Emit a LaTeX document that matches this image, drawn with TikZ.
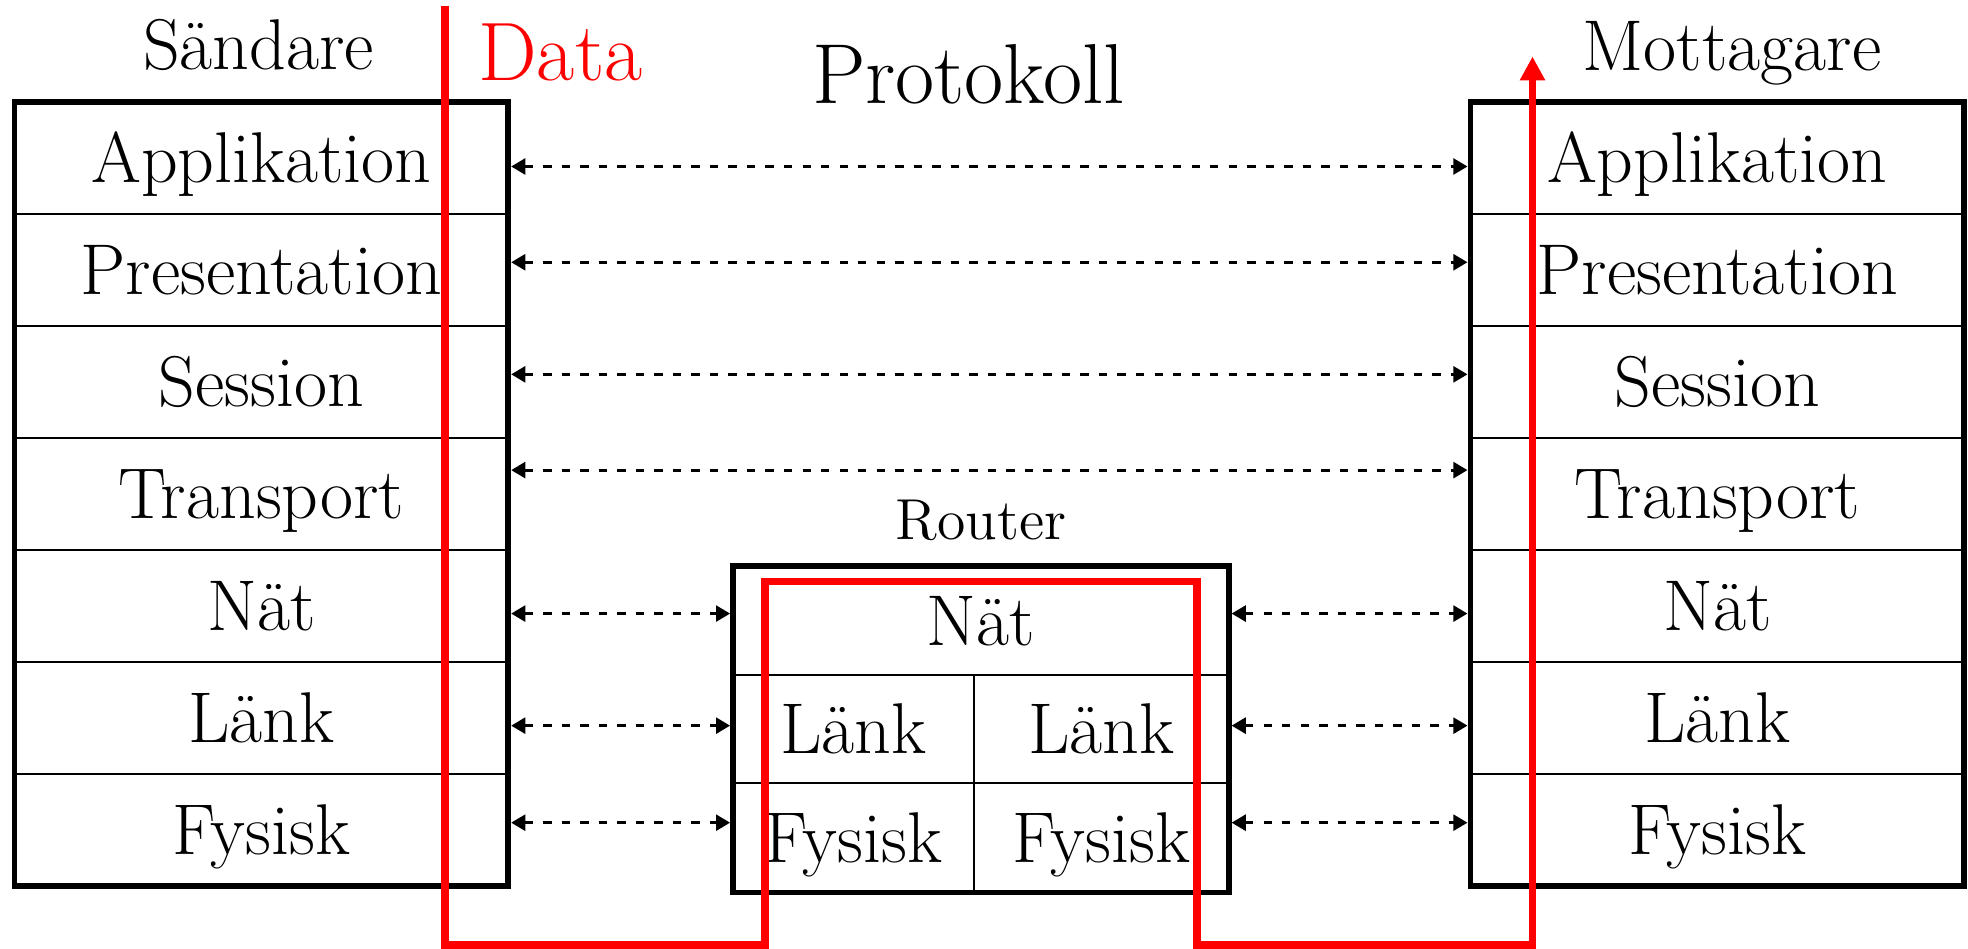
\documentclass[tikz,border=0pt]{standalone}
\usepackage{fontspec}
\usepackage{tikz}
\usetikzlibrary{arrows.meta}
\usetikzlibrary{positioning}

\tikzset{
  layer/.style={draw, line width=0.45pt, inner sep=0pt, outer sep=0pt, minimum width=3.935cm, minimum height=0.893cm, font=\fontsize{16.3}{19}\selectfont, text height=11.1pt, text depth=0pt},
  frame/.style={line width=1.3pt},
  flow/.style={red, line width=1.7pt},
  proto/.style={dash pattern=on 1.9pt off 2.3pt, line width=0.65pt, shorten <=0.65pt, shorten >=0.65pt, {Triangle[length=3.2pt,width=3.6pt]}-{Triangle[length=3.2pt,width=3.6pt]}},
  rubrik/.style={inner sep=0pt, font=\fontsize{16.3}{19}\selectfont, text height=11.1pt, text depth=0pt}
}

\begin{document}
\begin{tikzpicture}
\useasboundingbox (0,0) rectangle (15.68,-7.56);
%stacks
\foreach \n [count=\i] in {Applikation,Presentation,Session,Transport,Nät,Länk,Fysisk} {
  \node[layer] (s\i) at (2.0825,{-0.3635-0.893*\i}) {\n};
  \node[layer] (m\i) at (13.6825,{-0.3635-0.893*\i}) {\n};
}
\draw[frame] (s1.north west) rectangle (s7.south east);
\draw[frame] (m1.north west) rectangle (m7.south east);

%router
\node[layer, minimum width=3.95cm, minimum height=0.87cm] (rn) at (7.815,-4.945) {Nät};
\node[layer, minimum width=1.92cm, minimum height=0.86cm, below right=0pt of rn.south west] (rl1) {Länk};
\node[layer, minimum width=2.03cm, minimum height=0.86cm, below left=0pt of rn.south east] (rl2) {Länk};
\node[layer, minimum width=1.92cm, minimum height=0.87cm, below=0pt of rl1] (rf1) {Fysisk};
\node[layer, minimum width=2.03cm, minimum height=0.87cm, below=0pt of rl2] (rf2) {Fysisk};
\draw[frame] (rn.north west) rectangle (rf2.south east);

%labels
\node[rubrik] (sandare) at (2.06,-0.36) {Sändare};
\node[rubrik] (mottagare) at (13.80,-0.365) {Mottagare};
\node[rubrik, font=\fontsize{19.3}{23}\selectfont, text height=13.2pt] (protokoll) at (7.715,-0.595) {Protokoll};
\node[rubrik, font=\fontsize{13.1}{16}\selectfont, text height=8.95pt] (router) at (7.815,-4.14) {Router};
\node[rubrik, red, font=\fontsize{18.8}{22}\selectfont, text height=12.8pt] (data) at (4.465,-0.415) {Data};

%protocol arrows
\foreach \i/\dy in {1/-0.07,2/0.06,3/0.06,4/0.19}
  \draw[proto] ([yshift=\dy cm]s\i.east) -- ([yshift=\dy cm]m\i.west);
\foreach \i/\dy in {5/-0.06,6/-0.06,7/0.06} {
  \coordinate (l\i) at ([yshift=\dy cm]s\i.east);
  \draw[proto] (l\i) -- (l\i -| rn.west);
  \draw[proto] (l\i -| rn.east) -- (l\i -| m\i.west);
}

%data path
\coordinate (datastart) at (3.545,-0.05);
\coordinate (dataend) at (12.21,-0.45);
\draw[flow, -{Triangle[length=5.4pt,width=5.4pt]}] (datastart) -- (3.545,-7.53) -| (6.095,-4.634) -| (9.535,-7.53) -| (dataend);
\end{tikzpicture}
\end{document}
